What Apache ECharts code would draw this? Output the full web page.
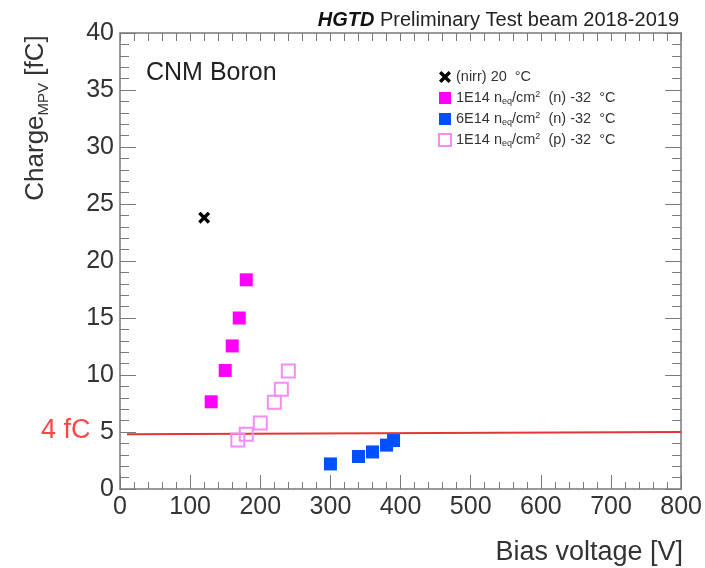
<!DOCTYPE html>
<html>
<head>
<meta charset="utf-8">
<script src="https://cdn.jsdelivr.net/npm/echarts@6/dist/echarts.min.js"></script>
<style>
  html, body { margin: 0; padding: 0; background: #fff; }
  #chart { width: 705px; height: 568px; }
</style>
</head>
<body>
<div id="chart"></div>
<script>
// Collected charge (MPV) vs bias voltage, CNM Boron sensors
const nirr20 = [[120, 23.8]];
const n1e14 = [[130, 7.65], [150, 10.4], [160, 12.55], [170, 15.0], [180, 18.35]];
const n6e14 = [[300, 2.2], [340, 2.85], [360, 3.25], [380, 3.85], [390, 4.25]];
const p1e14 = [[168, 4.3], [180, 4.8], [200, 5.8], [220, 7.6], [230, 8.75], [240, 10.35]];
const thresholdLine = [[10, 4.8], [800, 5.0]];

const seriesNames = [
  '(nirr) 20 °C',
  '1E14 neq/cm2 (n) -32 °C',
  '6E14 neq/cm2 (n) -32 °C',
  '1E14 neq/cm2 (p) -32 °C'
];
const legendRich = {
  '(nirr) 20 °C': '(nirr) 20  °C',
  '1E14 neq/cm2 (n) -32 °C': '1E14 n{sub|eq}/cm{sup|2}  (n) -32  °C',
  '6E14 neq/cm2 (n) -32 °C': '6E14 n{sub|eq}/cm{sup|2}  (n) -32  °C',
  '1E14 neq/cm2 (p) -32 °C': '1E14 n{sub|eq}/cm{sup|2}  (p) -32  °C'
};

const FONT = '"Liberation Sans", Arial, sans-serif';
const AXIS_COLOR = '#7a7a7a';
const crossPath = 'path://M0,2 L2,0 L5,3 L8,0 L10,2 L7,5 L10,8 L8,10 L5,7 L2,10 L0,8 L3,5 Z';

const chart = echarts.init(document.getElementById('chart'));

const baseX = {
  type: 'value', min: 0, max: 800, interval: 100,
  axisLine: { show: true, onZero: false, lineStyle: { color: AXIS_COLOR, width: 1.5 } },
  axisTick: { show: true, inside: true, length: 14, lineStyle: { color: AXIS_COLOR } },
  minorTick: { show: true, splitNumber: 5, length: 7, lineStyle: { color: AXIS_COLOR } },
  splitLine: { show: false }
};
const baseY = {
  type: 'value', min: 0, max: 40, interval: 5,
  axisLine: { show: true, onZero: false, lineStyle: { color: AXIS_COLOR, width: 1.5 } },
  axisTick: { show: true, inside: true, length: 16, lineStyle: { color: AXIS_COLOR } },
  minorTick: { show: true, splitNumber: 5, length: 9, lineStyle: { color: AXIS_COLOR } },
  splitLine: { show: false }
};

chart.setOption({
  animation: false,
  backgroundColor: '#fff',
  textStyle: { fontFamily: FONT },
  grid: { left: 120, right: 20, top: 33, bottom: 79 },
  title: [
    {
      text: '{b|HGTD} Preliminary Test beam 2018-2019',
      right: 21, top: 5,
      textStyle: {
        fontFamily: FONT, fontSize: 20, fontWeight: 'normal', color: '#222',
        rich: { b: { fontFamily: FONT, fontSize: 20, fontWeight: 'bold', fontStyle: 'italic', color: '#111' } }
      }
    },
    {
      text: 'CNM Boron',
      left: 141, top: 56,
      textStyle: { fontFamily: FONT, fontSize: 25, fontWeight: 'normal', color: '#222' }
    }
  ],
  legend: {
    orient: 'vertical',
    left: 433, top: 64,
    itemWidth: 12, itemHeight: 12, itemGap: 5,
    data: seriesNames,
    formatter: name => legendRich[name],
    textStyle: {
      fontFamily: FONT, fontSize: 14.5, color: '#333', lineHeight: 16,
      rich: {
        sub: { fontSize: 9, lineHeight: 8, verticalAlign: 'bottom', color: '#333' },
        sup: { fontSize: 9, lineHeight: 8, verticalAlign: 'top', color: '#333' }
      }
    }
  },
  xAxis: [
    Object.assign({}, baseX, {
      position: 'bottom',
      axisLabel: { show: true, margin: 6, fontSize: 25, color: '#333', fontFamily: FONT }
    }),
    Object.assign({}, baseX, {
      position: 'top',
      axisLabel: { show: false },
      axisTick: { show: true, inside: true, length: 8, lineStyle: { color: AXIS_COLOR } },
      minorTick: { show: true, splitNumber: 5, length: 8, lineStyle: { color: AXIS_COLOR } }
    })
  ],
  yAxis: [
    Object.assign({}, baseY, {
      position: 'left',
      axisLabel: { show: true, margin: 6, fontSize: 25, color: '#333', fontFamily: FONT }
    }),
    Object.assign({}, baseY, {
      position: 'right',
      axisLabel: { show: false }
    })
  ],
  series: [
    {
      name: 'threshold', type: 'line', data: thresholdLine,
      symbol: 'none', silent: true, z: 1,
      lineStyle: { color: '#e2363a', width: 2 }
    },
    {
      name: seriesNames[0], type: 'scatter', data: nirr20,
      symbol: crossPath, symbolSize: 12,
      itemStyle: { color: '#000', opacity: 1 }
    },
    {
      name: seriesNames[1], type: 'scatter', data: n1e14,
      symbol: 'rect', symbolSize: 13,
      itemStyle: { color: '#ff00ff', opacity: 1 }
    },
    {
      name: seriesNames[2], type: 'scatter', data: n6e14,
      symbol: 'rect', symbolSize: 13,
      itemStyle: { color: '#0050ff', opacity: 1 }
    },
    {
      name: seriesNames[3], type: 'scatter', data: p1e14,
      symbol: 'rect', symbolSize: 13,
      itemStyle: { color: 'rgba(255,255,255,0)', borderColor: '#f58cf5', borderWidth: 2, opacity: 1 }
    }
  ],
  graphic: [
    {
      type: 'text',
      x: 36, y: 118, rotation: Math.PI / 2,
      style: {
        text: 'Charge{sub|MPV} [fC]',
        fontFamily: FONT, fontSize: 26, fill: '#333',
        align: 'center', verticalAlign: 'middle', lineHeight: 30,
        rich: { sub: { fontFamily: FONT, fontSize: 15, lineHeight: 15, verticalAlign: 'bottom', fill: '#333' } }
      }
    },
    {
      type: 'text',
      right: 22, top: 539,
      style: { text: 'Bias voltage [V]', fontFamily: FONT, fontSize: 27, fill: '#333' }
    },
    {
      type: 'text',
      left: 41, top: 417,
      style: { text: '4 fC', fontFamily: FONT, fontSize: 27, fill: '#ff4545' }
    }
  ]
});
</script>
</body>
</html>
